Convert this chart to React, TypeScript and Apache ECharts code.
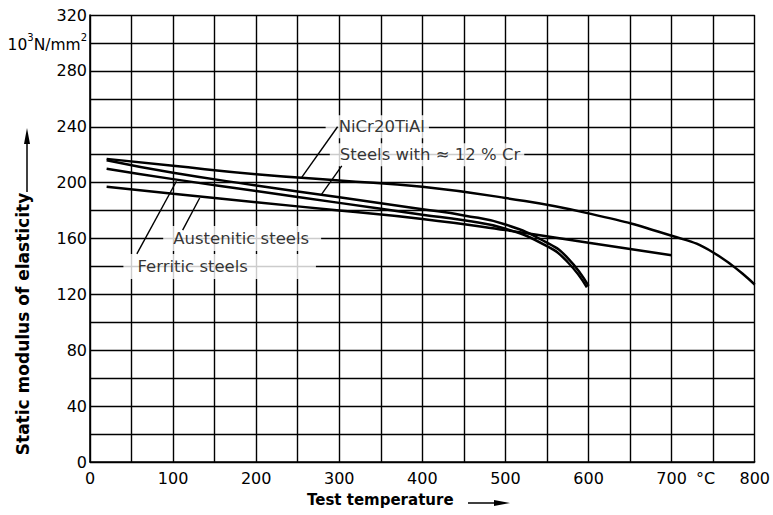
import React, { useEffect, useRef } from "react";
import * as echarts from "echarts";

// ---- data (test temperature °C, static modulus 10^3 N/mm^2) ----
const niCrT = [20, 100, 200, 300, 400, 500, 600, 700, 750, 800];
const niCrE = [217, 212, 206, 201.5, 197, 189, 178, 162, 150, 127];

const cr12T = [20, 100, 200, 300, 400, 450, 500, 550, 575, 600];
const cr12E = [216, 207, 198, 189.5, 181, 176.5, 170, 157, 146, 126];

const ferT = [20, 100, 200, 300, 400, 450, 500, 550, 575, 598];
const ferE = [210, 202.5, 194, 185.5, 177, 173, 167, 154.5, 143, 125];

const ausT = [20, 100, 200, 300, 400, 500, 600, 700];
const ausE = [197, 192, 186, 180, 174, 166, 157, 148];

const xLabelValues = [0, 100, 200, 300, 400, 500, 600, 700, 800];
const yLabelValues = [0, 40, 80, 120, 160, 200, 240, 280, 320];

const curveNames = ["NiCr20TiAl", "Steels with ≈ 12 % Cr", "Ferritic steels", "Austenitic steels"];

// annotation anchors (data coordinates)
const labelAnchors = [
  [283, 240],
  [288, 220],
  [87.5, 160],
  [39.6, 140],
];
const labelTexts = ["NiCr20TiAl", "Steels with ≈ 12 % Cr", "Austenitic steels", "Ferritic steels"];
const labelPads = [
  [3, 4, 3, 13],
  [3, 4, 3, 10],
  [4, 12, 4, 10],
  [4, 68, 4, 14],
];
const leaders = [
  [[298, 240], [255, 204]],
  [[303, 212], [278, 191]],
  [[111.5, 166], [132, 189]],
  [[56.4, 149], [104, 201]],
];

const FONT = "DejaVu Sans";

function zip(xs: number[], ys: number[]) {
  return xs.map((x, i) => [x, ys[i]]);
}

export default function App() {
  const ref = useRef<HTMLDivElement>(null);
  useEffect(() => {
    if (!ref.current) return;
    const chart = echarts.init(ref.current, undefined, { renderer: "svg" });
    const curves = [
      zip(niCrT, niCrE),
      zip(cr12T, cr12E),
      zip(ferT, ferE),
      zip(ausT, ausE),
    ];
    const curveSeries = curves.map((d, i) => ({
      type: "line",
      name: curveNames[i],
      data: d,
      smooth: 0.5,
      symbol: "none",
      lineStyle: { color: "#000", width: 2.5 },
      z: 2,
      silent: true,
    }));
    const leaderSeries = leaders.map((d) => ({
      type: "line",
      data: d,
      symbol: "none",
      lineStyle: { color: "#000", width: 1.4 },
      z: 5,
      silent: true,
    }));
    const option: any = {
      animation: false,
      backgroundColor: "#fff",
      grid: { left: 90, right: 16, top: 15, bottom: 53, containLabel: false },
      xAxis: {
        type: "value",
        min: 0,
        max: 800,
        interval: 50,
        axisLine: { show: true, lineStyle: { color: "#000", width: 1.6 } },
        axisTick: { show: false },
        splitLine: { show: true, lineStyle: { color: "#000", width: 1.4 } },
        axisLabel: {
          margin: 8,
          color: "#000",
          fontFamily: FONT,
          fontSize: 16,
          formatter: (v: number) => {
            if (v === 750) return "{c|°C}";
            return xLabelValues.includes(v) ? String(v) : "";
          },
          rich: {
            c: { fontFamily: FONT, fontSize: 16, color: "#000", padding: [0, 15, 0, 0] },
          },
        },
      },
      yAxis: {
        type: "value",
        min: 0,
        max: 320,
        interval: 20,
        axisLine: { show: true, lineStyle: { color: "#000", width: 1.6 } },
        axisTick: { show: false },
        splitLine: { show: true, lineStyle: { color: "#000", width: 1.4 } },
        axisLabel: {
          margin: 3,
          color: "#000",
          fontFamily: FONT,
          fontSize: 16,
          formatter: (v: number) => {
            if (v === 300) return "{n|10}{s|3}{n|N/mm}{s|2}";
            return yLabelValues.includes(v) ? String(v) : "";
          },
          rich: {
            n: { fontFamily: FONT, fontSize: 15.5, color: "#000", lineHeight: 20, verticalAlign: "bottom" },
            s: { fontFamily: FONT, fontSize: 10, color: "#000", lineHeight: 10, verticalAlign: "top" },
          },
        },
      },
      series: [
        ...curveSeries,
        {
          type: "scatter",
          symbolSize: 1,
          itemStyle: { color: "rgba(0,0,0,0)" },
          z: 3,
          silent: true,
          data: labelAnchors.map((p, i) => ({
            value: p,
            name: labelTexts[i],
            label: { padding: labelPads[i] },
          })),
          label: {
            show: true,
            position: "right",
            distance: 0,
            formatter: (p: any) => p.name,
            color: "#000",
            fontFamily: FONT,
            fontSize: 16.5,
            backgroundColor: "#fff",
          },
        },
        ...leaderSeries,
      ],
      graphic: [
        {
          type: "text",
          left: 307,
          top: 492,
          style: { text: "Test temperature", font: `bold 15px "${FONT}"`, fill: "#000" },
        },
        {
          type: "line",
          shape: { x1: 468, y1: 503, x2: 500, y2: 503 },
          style: { stroke: "#000", lineWidth: 1.5 },
        },
        {
          type: "polygon",
          shape: { points: [[494, 500], [510, 503], [494, 506]] },
          style: { fill: "#000" },
        },
        {
          type: "text",
          x: 23,
          y: 324,
          rotation: Math.PI / 2,
          style: {
            text: "Static modulus of elasticity",
            font: `bold 17px "${FONT}"`,
            fill: "#000",
            textAlign: "center",
            textVerticalAlign: "middle",
          },
        },
        {
          type: "line",
          shape: { x1: 27, y1: 192, x2: 27, y2: 138 },
          style: { stroke: "#000", lineWidth: 1.5 },
        },
        {
          type: "polygon",
          shape: { points: [[24, 144], [27, 128], [30, 144]] },
          style: { fill: "#000" },
        },
      ],
    };
    chart.setOption(option);
    return () => chart.dispose();
  }, []);
  return (
    <div
      ref={ref}
      style={{ position: "absolute", left: 0, top: 0, width: 773, height: 515, background: "#fff" }}
    />
  );
}
